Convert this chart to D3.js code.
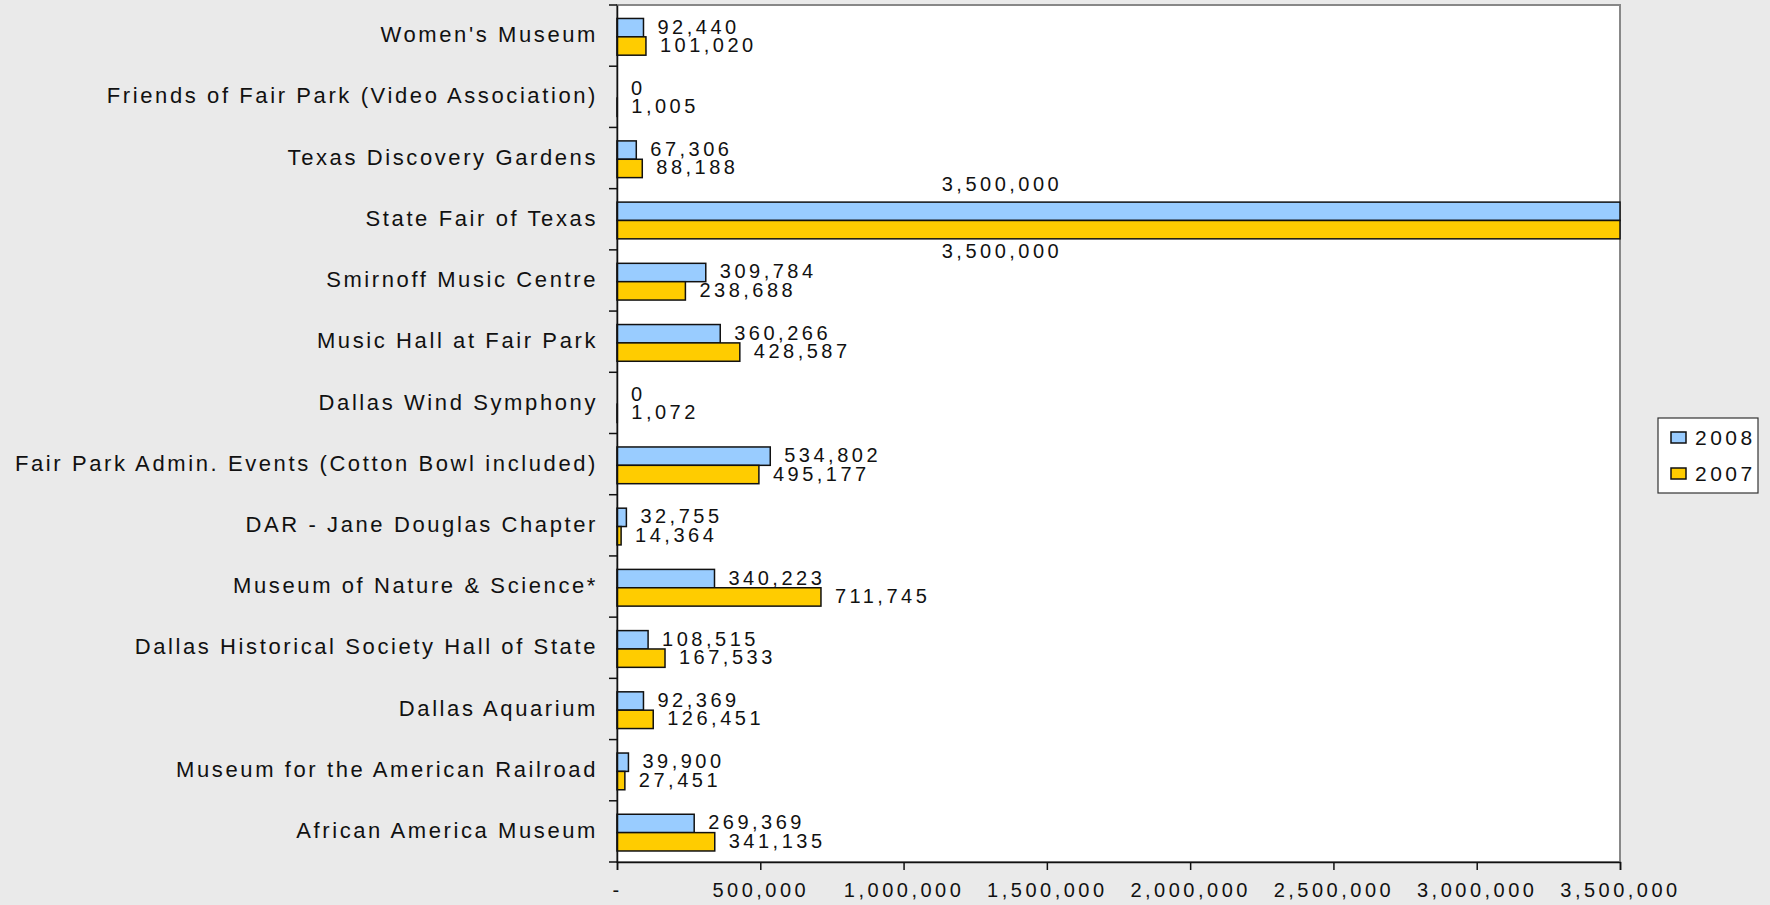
<!DOCTYPE html>
<html>
<head>
<meta charset="utf-8">
<script src="https://cdn.jsdelivr.net/npm/d3@7"></script>
<style>
  body { margin: 0; background: #eaeaea; }
  svg { display: block; font-family: "Liberation Sans", Arial, sans-serif; }
  .cat text { font-size: 22px; letter-spacing: 2.6px; fill: #111; }
  .val { font-size: 20px; letter-spacing: 3.5px; fill: #111; }
  .xaxis text { font-size: 20px; letter-spacing: 3.5px; fill: #111; }
  .legend text { font-size: 21px; letter-spacing: 3.5px; fill: #111; }
</style>
</head>
<body>
<svg id="chart" width="1770" height="905"></svg>
<script>
const categories = [
  "Women's Museum",
  "Friends of Fair Park (Video Association)",
  "Texas Discovery Gardens",
  "State Fair of Texas",
  "Smirnoff Music Centre",
  "Music Hall at Fair Park",
  "Dallas Wind Symphony",
  "Fair Park Admin. Events (Cotton Bowl included)",
  "DAR - Jane Douglas Chapter",
  "Museum of Nature & Science*",
  "Dallas Historical Society Hall of State",
  "Dallas Aquarium",
  "Museum for the American Railroad",
  "African America Museum"
];
const values2008 = [92440, 0, 67306, 3500000, 309784, 360266, 0, 534802, 32755, 340223, 108515, 92369, 39900, 269369];
const values2007 = [101020, 1005, 88188, 3500000, 238688, 428587, 1072, 495177, 14364, 711745, 167533, 126451, 27451, 341135];
const seriesNames = ["2008", "2007"];
const xTicks = [0, 500000, 1000000, 1500000, 2000000, 2500000, 3000000, 3500000];

const colors = { "2008": "#99ccff", "2007": "#ffcc00" };
const margin = { top: 5, right: 150, bottom: 43, left: 617 };
const W = 1770, H = 905;
const width = W - margin.left - margin.right;
const height = H - margin.top - margin.bottom;

const data = categories.map((c, i) => ({ cat: c, "2008": values2008[i], "2007": values2007[i] }));
const fmt = d3.format(",");

const svg = d3.select("#chart");
const g = svg.append("g").attr("transform", `translate(${margin.left},${margin.top})`);

// zone du graphique
g.append("rect")
  .attr("width", width).attr("height", height)
  .attr("fill", "#fff").attr("stroke", "#888").attr("stroke-width", 2);

const x = d3.scaleLinear().domain([0, 3500000]).range([0, width]);
const y = d3.scaleBand().domain(categories).range([0, height]);
const inner = d3.scaleBand().domain(seriesNames).range([y.bandwidth() * 0.22, y.bandwidth() * 0.82]);

// barres
const rows = g.selectAll(".row").data(data).enter().append("g")
  .attr("transform", d => `translate(0,${y(d.cat)})`);

rows.selectAll("rect").data(d => seriesNames.map(s => ({ s, v: d[s] }))).enter()
  .append("rect")
  .attr("x", 0)
  .attr("y", d => inner(d.s))
  .attr("width", d => x(d.v))
  .attr("height", inner.bandwidth())
  .attr("fill", d => colors[d.s])
  .attr("stroke", d => d.v > 0 ? "#111" : "none")
  .attr("stroke-width", 1.5);

// étiquettes de valeurs
rows.selectAll("text").data(d => seriesNames.map(s => ({ s, v: d[s] }))).enter()
  .append("text")
  .attr("class", "val")
  .attr("x", d => d.v >= x.domain()[1] ? x(d.v) - 618 : x(d.v) + 14)
  .attr("y", d => {
    if (d.v >= x.domain()[1]) {
      return d.s === "2008" ? inner(d.s) - 18 : inner(d.s) + inner.bandwidth() + 12;
    }
    return inner(d.s) + inner.bandwidth() / 2 - 1;
  })
  .attr("dy", "0.35em")
  .attr("text-anchor", d => d.v >= x.domain()[1] ? "middle" : "start")
  .text(d => fmt(d.v));

// axe Y
g.append("g").attr("class", "cat")
  .call(d3.axisLeft(y).tickSize(0).tickPadding(19))
  .call(a => a.select(".domain").attr("stroke", "#111").attr("stroke-width", 1.5))
  .call(a => a.selectAll("text").attr("dy", "0.3em"));

g.append("g").selectAll("line").data(d3.range(categories.length + 1)).enter()
  .append("line")
  .attr("x1", -8).attr("x2", 0)
  .attr("y1", i => i < categories.length ? y(categories[i]) : height)
  .attr("y2", i => i < categories.length ? y(categories[i]) : height)
  .attr("stroke", "#111").attr("stroke-width", 1.5);

// axe X
g.append("g").attr("class", "xaxis")
  .attr("transform", `translate(0,${height})`)
  .call(d3.axisBottom(x).tickValues(xTicks).tickSize(8).tickPadding(13)
    .tickFormat(d => d === 0 ? "-" : fmt(d)))
  .call(a => a.select(".domain").attr("stroke", "#111").attr("stroke-width", 1.5))
  .call(a => a.selectAll("line").attr("stroke", "#111").attr("stroke-width", 1.5));

// légende
const leg = svg.append("g").attr("class", "legend").attr("transform", "translate(1658,418)");
leg.append("rect").attr("width", 100).attr("height", 75)
  .attr("fill", "#fff").attr("stroke", "#333").attr("stroke-width", 1.2);
const items = leg.selectAll(".item").data(seriesNames).enter().append("g")
  .attr("transform", (d, i) => `translate(13,${14 + i * 36})`);
items.append("rect").attr("width", 15).attr("height", 11)
  .attr("fill", d => colors[d]).attr("stroke", "#111").attr("stroke-width", 1.5);
items.append("text").attr("x", 24).attr("y", 6).attr("dy", "0.35em").text(d => d);
</script>
</body>
</html>
